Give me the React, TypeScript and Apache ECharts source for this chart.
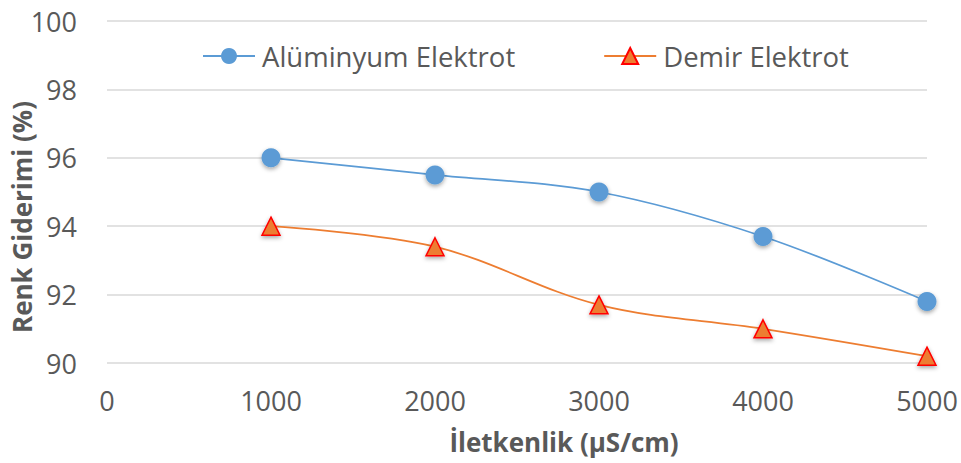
import React, { useEffect, useRef } from "react";
import * as echarts from "echarts";

const xValues = [1000, 2000, 3000, 4000, 5000];
const aluminyum = [96.0, 95.5, 95.0, 93.7, 91.8];
const demir = [94.0, 93.4, 91.7, 91.0, 90.2];
const seriesNames = ["Alüminyum Elektrot", "Demir Elektrot"];
const xTitle = "İletkenlik (µS/cm)";
const yTitle = "Renk Giderimi (%)";

const FONT = "Open Sans";
const TEXT = "#595959";

export default function App() {
  const ref = useRef<HTMLDivElement>(null);
  useEffect(() => {
    if (!ref.current) return;
    const chart = echarts.init(ref.current, null, { renderer: "svg" });
    chart.setOption({
      animation: false,
      textStyle: { fontFamily: FONT },
      grid: { left: 107, right: 34, top: 21, bottom: 100, containLabel: false },
      legend: {
        left: 202,
        top: 42,
        padding: 0,
        itemWidth: 52,
        itemHeight: 20,
        itemGap: 88,
        textStyle: { fontFamily: FONT, fontSize: 27.5, color: TEXT, padding: [0, 0, 0, 2] },
        data: seriesNames,
      },
      xAxis: {
        type: "value",
        min: 0,
        max: 5000,
        interval: 1000,
        axisLine: { show: false },
        axisTick: { show: false },
        splitLine: { show: false },
        axisLabel: {
          color: TEXT,
          fontSize: 27,
          fontFamily: FONT,
          margin: 24,
          formatter: (v: number) => String(v),
        },
      },
      yAxis: {
        type: "value",
        min: 90,
        max: 100,
        interval: 2,
        axisLine: { show: false },
        axisTick: { show: false },
        splitLine: { lineStyle: { color: "#D9D9D9", width: 1.5 } },
        axisLabel: { color: TEXT, fontSize: 27, fontFamily: FONT, margin: 30 },
      },
      graphic: [
        {
          type: "text",
          x: 564,
          y: 442,
          style: {
            text: xTitle,
            font: `bold 26px "${FONT}"`,
            fill: TEXT,
            textAlign: "center",
            textVerticalAlign: "middle",
          },
        },
        {
          type: "text",
          x: 22,
          y: 217,
          rotation: Math.PI / 2,
          style: {
            text: yTitle,
            font: `bold 26px "${FONT}"`,
            fill: TEXT,
            textAlign: "center",
            textVerticalAlign: "middle",
          },
        },
      ],
      series: [
        {
          name: seriesNames[0],
          type: "line",
          smooth: 0.35,
          data: xValues.map((x, i) => [x, aluminyum[i]]),
          symbol: "circle",
          symbolSize: 19,
          lineStyle: { color: "#5B9BD5", width: 1.75 },
          itemStyle: {
            color: "#5B9BD5",
            shadowBlur: 4,
            shadowColor: "rgba(0,0,0,0.35)",
            shadowOffsetY: 2,
          },
        },
        {
          name: seriesNames[1],
          type: "line",
          smooth: 0.35,
          data: xValues.map((x, i) => [x, demir[i]]),
          symbol: "triangle",
          symbolSize: 18,
          lineStyle: { color: "#ED7D31", width: 1.75 },
          itemStyle: {
            color: "#ED7D31",
            borderColor: "#FF0000",
            borderWidth: 1.5,
            shadowBlur: 4,
            shadowColor: "rgba(0,0,0,0.35)",
            shadowOffsetY: 2,
          },
        },
      ],
    });
    return () => chart.dispose();
  }, []);
  return (
    <div
      ref={ref}
      style={{ position: "absolute", left: 0, top: 0, width: 961, height: 463 }}
    />
  );
}
